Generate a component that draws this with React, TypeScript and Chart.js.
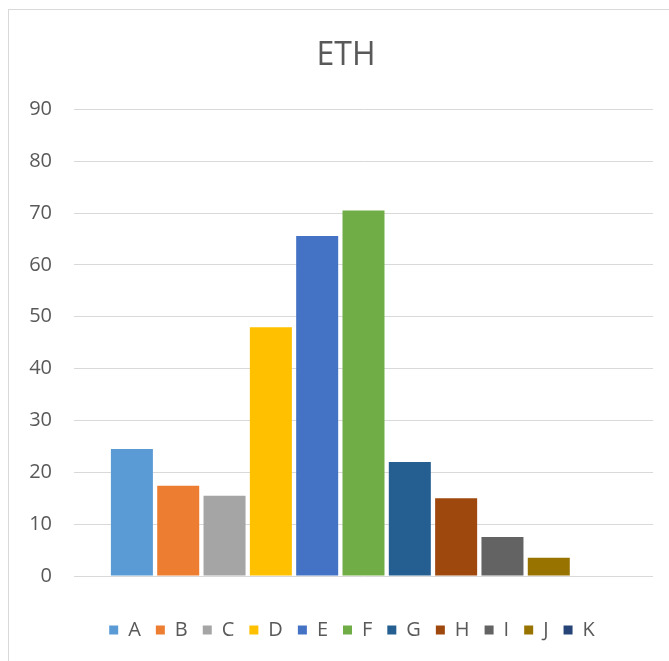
import React, { useEffect, useRef } from "react";
import { Chart, registerables } from "chart.js";

Chart.register(...registerables);

const categories = [""];
const seriesNames = ["A", "B", "C", "D", "E", "F", "G", "H", "I", "J", "K"];
const seriesValues = [24.5, 17.4, 15.5, 48.0, 65.6, 70.5, 22.0, 15.0, 7.5, 3.5, 0];
const seriesColors = [
  "#5B9BD5", "#ED7D31", "#A5A5A5", "#FFC000", "#4472C4", "#70AD47",
  "#255E91", "#9E480E", "#636363", "#997300", "#264478",
];
const yTicks = { min: 0, max: 90, step: 10 };
const titleText = "ETH";

const FONT = "'Open Sans', 'Liberation Sans', sans-serif";
const TEXT = "#595959";

const shiftBoxes = {
  id: "shiftBoxes",
  afterLayout(chart: any) {
    const t = chart.titleBlock;
    if (t) {
      t.left += 15;
      t.right += 15;
    }
    const l = chart.legend;
    if (l) {
      l.left += 21;
      l.right += 21;
    }
  },
};

export default function App() {
  const ref = useRef<HTMLCanvasElement | null>(null);

  useEffect(() => {
    if (!ref.current) return;
    const chart = new Chart(ref.current, {
      type: "bar",
      data: {
        labels: categories,
        datasets: seriesNames.map((name, i) => ({
          label: name,
          data: [seriesValues[i]],
          backgroundColor: seriesColors[i],
          borderWidth: 0,
          categoryPercentage: 0.88,
          barPercentage: 0.907,
        })),
      },
      options: {
        animation: false,
        responsive: false,
        maintainAspectRatio: false,
        layout: { padding: { left: 0, right: 16, top: 0, bottom: 12 } },
        plugins: {
          title: {
            display: true,
            text: titleText,
            color: TEXT,
            font: { family: FONT, size: 32, weight: "normal" },
            padding: { top: 27, bottom: 34 },
          },
          legend: {
            display: true,
            position: "bottom",
            labels: {
              color: TEXT,
              font: { family: FONT, size: 20 },
              boxWidth: 9,
              boxHeight: 9,
              padding: 15,
            },
          },
          tooltip: { enabled: false },
        },
        scales: {
          x: {
            display: true,
            ticks: { display: false },
            grid: { display: false },
            border: { display: false },
            afterFit: (s: any) => {
              s.height = 29;
            },
          },
          y: {
            min: yTicks.min,
            max: yTicks.max,
            ticks: {
              stepSize: yTicks.step,
              color: TEXT,
              font: { family: FONT, size: 20 },
              padding: 22,
            },
            grid: { color: "#d9d9d9", lineWidth: 1, drawTicks: false },
            border: { display: false },
            afterFit: (s: any) => {
              s.width = 65;
            },
          },
        },
      },
      plugins: [shiftBoxes],
    });
    return () => chart.destroy();
  }, []);

  return (
    <div
      style={{
        position: "fixed",
        left: 8,
        top: 9,
        width: 660,
        height: 652,
        borderLeft: "1px solid #d9d9d9",
        borderTop: "1px solid #d9d9d9",
        background: "#fff",
      }}
    >
      <canvas ref={ref} width={660} height={652} style={{ display: "block" }} />
    </div>
  );
}
